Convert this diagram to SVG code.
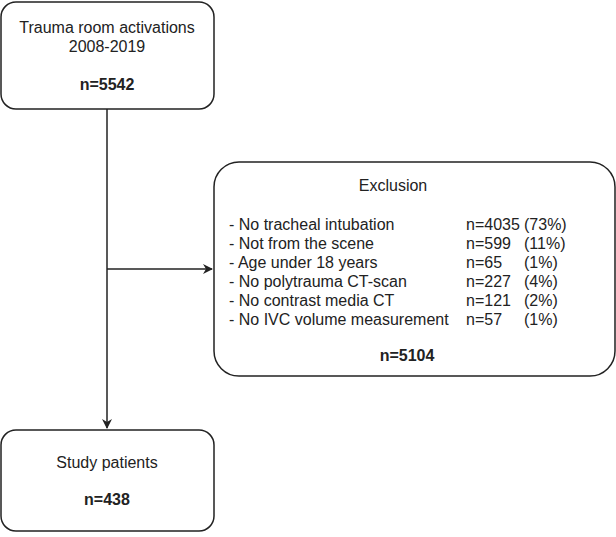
<svg xmlns="http://www.w3.org/2000/svg" width="616" height="537" viewBox="0 0 616 537">
<style>
.box{fill:#fff;stroke:#222;stroke-width:1.5}
text{font-family:"Liberation Sans",Arial,sans-serif;font-size:16px;fill:#222}
.c{text-anchor:middle}
.b{font-weight:bold}
.ln{stroke:#222;stroke-width:1.5;fill:none}
</style>
<defs><marker id="a" markerWidth="10" markerHeight="10" refX="9" refY="5" orient="auto" markerUnits="userSpaceOnUse"><path d="M0,0 L10,5 L0,10 L3,5 Z" fill="#222"/></marker></defs>
<rect width="616" height="537" fill="#fff"/>
<g id="connectors">
<path class="ln" d="M107,109 V428" marker-end="url(#a)"/>
<path class="ln" d="M107,269 H212" marker-end="url(#a)"/>
</g>
<g id="start">
<rect class="box" x="1" y="2" width="213" height="107" rx="15"/>
<text class="c" x="107" y="33">Trauma room activations</text>
<text class="c" x="107" y="52">2008-2019</text>
<text class="c b" x="107" y="90">n=5542</text>
</g>
<g id="exclusion">
<rect class="box" x="214" y="162" width="401" height="214" rx="25"/>
<text class="c" x="393" y="191">Exclusion</text>
<text x="229" y="230">- No tracheal intubation</text>
<text x="229" y="249">- Not from the scene</text>
<text x="229" y="268">- Age under 18 years</text>
<text x="229" y="287">- No polytrauma CT-scan</text>
<text x="229" y="306">- No contrast media CT</text>
<text x="229" y="325">- No IVC volume measurement</text>
<text x="466" y="230">n=4035</text><text x="524" y="230">(73%)</text>
<text x="466" y="249">n=599</text><text x="524" y="249">(11%)</text>
<text x="466" y="268">n=65</text><text x="524" y="268">(1%)</text>
<text x="466" y="287">n=227</text><text x="524" y="287">(4%)</text>
<text x="466" y="306">n=121</text><text x="524" y="306">(2%)</text>
<text x="466" y="325">n=57</text><text x="524" y="325">(1%)</text>
<text class="c b" x="407" y="361">n=5104</text>
</g>
<g id="study">
<rect class="box" x="1" y="430" width="213" height="101" rx="15"/>
<text class="c" x="107" y="468">Study patients</text>
<text class="c b" x="107" y="505">n=438</text>
</g>
</svg>
